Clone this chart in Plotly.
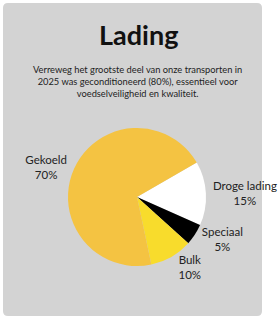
import plotly.graph_objects as go

categories = ["Droge lading", "Speciaal", "Bulk", "Gekoeld"]
values = [15, 5, 10, 70]
colors = ["#FFFFFF", "#000000", "#F8DC2C", "#F4C342"]

title = "Lading"
subtitle = ("Verreweg het grootste deel van onze transporten in<br>"
            "2025 was geconditioneerd (80%), essentieel voor<br>"
            "voedselveiligheid en kwaliteit.")

W, H = 279, 323

fig = go.Figure(go.Pie(
    labels=categories,
    values=values,
    sort=False,
    direction="clockwise",
    rotation=60,
    marker=dict(colors=colors, line=dict(width=0)),
    texttemplate="%{label}<br>%{percent:.0%}",
    textposition="outside",
    textfont=dict(family="Lato", size=11.5, color="#222222"),
    automargin=False,
    showlegend=False,
    hoverinfo="label+percent",
    domain=dict(x=[68 / W, 206 / W], y=[57 / H, 195 / H]),
))

r = 5
path = (f"M {3 + r} 3 L {262 - r} 3 Q 262 3 262 {3 + r} L 262 {316 - r} "
        f"Q 262 316 {262 - r} 316 L {3 + r} 316 Q 3 316 3 {316 - r} L 3 {3 + r} Q 3 3 {3 + r} 3 Z")

fig.update_layout(
    width=W, height=H,
    margin=dict(l=0, r=0, t=0, b=0, autoexpand=False),
    paper_bgcolor="white",
    plot_bgcolor="white",
    xaxis=dict(visible=False, range=[0, W], fixedrange=True),
    yaxis=dict(visible=False, range=[H, 0], fixedrange=True),
    shapes=[dict(type="path", path=path, xref="x", yref="y",
                 fillcolor="#D3D3D3", line=dict(width=0), layer="below")],
    annotations=[
        dict(text=f"<b>{title}</b>", x=138 / W, y=1 - 34 / H, xref="paper", yref="paper",
             showarrow=False, font=dict(family="Lato", size=27, color="#111111"),
             xanchor="center", yanchor="middle"),
        dict(text=subtitle, x=137 / W, y=1 - 81 / H, xref="paper", yref="paper",
             showarrow=False, font=dict(family="Lato", size=9.3, color="#222222"),
             xanchor="center", yanchor="middle", align="center"),
    ],
)
fig.add_trace(go.Scatter(x=[], y=[], showlegend=False))

fig.write_html("out.html")
